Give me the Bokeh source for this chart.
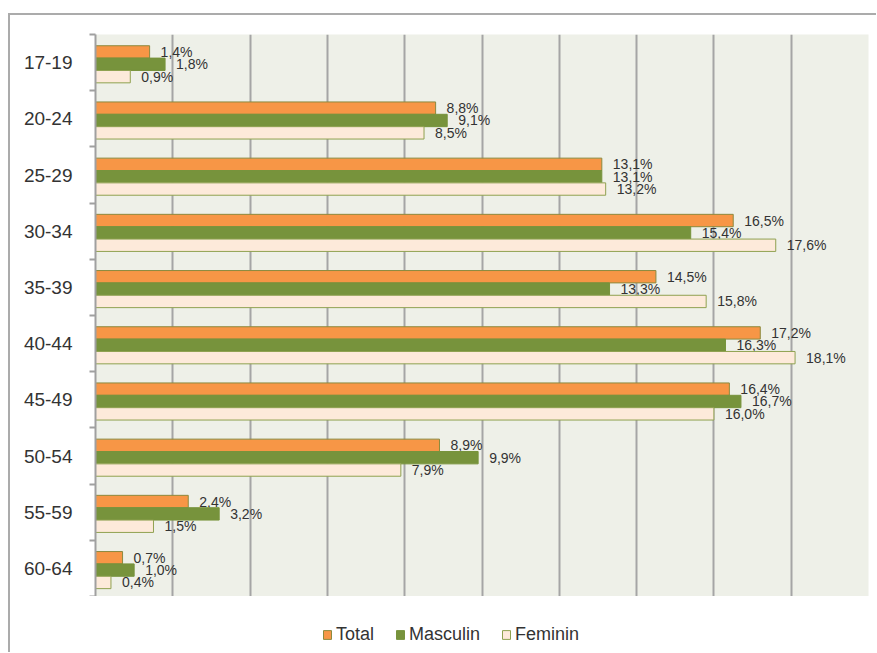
from bokeh.plotting import figure
from bokeh.layouts import column
from bokeh.models import Range1d, FixedTicker, Legend, LegendItem, ColumnDataSource
from bokeh.core.properties import value
from bokeh.embed import file_html
from bokeh.resources import INLINE

age_groups = ["17-19", "20-24", "25-29", "30-34", "35-39", "40-44", "45-49", "50-54", "55-59", "60-64"]
total = [1.4, 8.8, 13.1, 16.5, 14.5, 17.2, 16.4, 8.9, 2.4, 0.7]
masculin = [1.8, 9.1, 13.1, 15.4, 13.3, 16.3, 16.7, 9.9, 3.2, 1.0]
feminin = [0.9, 8.5, 13.2, 17.6, 15.8, 18.1, 16.0, 7.9, 1.5, 0.4]
series_names = ["Total", "Masculin", "Feminin"]
x_ticks = [0, 2, 4, 6, 8, 10, 12, 14, 16, 18, 20]

fills = ["#F79646", "#77933C", "#FDEADA"]
lines = ["#8C8A3E", "#77933C", "#8FA150"]
BAR_H = 0.22
offsets = [-BAR_H + 0.03, 0.03, BAR_H + 0.03]

n = len(age_groups)
centers = [i + 0.5 for i in range(n)]

p = figure(width=866, height=581, output_backend="svg", toolbar_location=None,
           x_range=Range1d(0, 20), y_range=Range1d(n, 0),
           x_axis_location=None,
           min_border_left=85, min_border_top=19, min_border_right=8, min_border_bottom=0)
p.background_fill_color = "#EEF0E8"
p.border_fill_color = "white"
p.outline_line_color = None

p.xgrid.ticker = FixedTicker(ticks=x_ticks)
p.xgrid.grid_line_color = "#A5A5A5"
p.xgrid.grid_line_width = 2
p.ygrid.grid_line_color = None

p.yaxis.ticker = FixedTicker(ticks=centers, minor_ticks=list(range(n + 1)))
p.yaxis.major_label_overrides = {c: g for c, g in zip(centers, age_groups)}
p.yaxis.major_tick_line_color = None
p.yaxis.minor_tick_out = 6
p.yaxis.minor_tick_in = 0
p.yaxis.minor_tick_line_color = "#A0A0A0"
p.yaxis.minor_tick_line_width = 2
p.yaxis.axis_line_color = "#A0A0A0"
p.yaxis.axis_line_width = 2
p.yaxis.major_label_text_font = "Liberation Sans"
p.yaxis.major_label_text_font_size = "19px"
p.yaxis.major_label_text_color = "#333333"
p.yaxis.major_label_standoff = 17

def fmt(v):
    return f"{v:.1f}%".replace(".", ",")

# legend-only figure below the chart
q = figure(width=866, height=56, output_backend="svg", toolbar_location=None,
           x_range=Range1d(0, 1), y_range=Range1d(0, 1),
           x_axis_location=None, y_axis_location=None,
           min_border=0)
q.outline_line_color = None
q.grid.grid_line_color = None
q.background_fill_color = "white"
q.border_fill_color = "white"

items = []
for name, vals, fc, lc, off in zip(series_names, [total, masculin, feminin], fills, lines, offsets):
    src = ColumnDataSource(dict(
        y=[c + off for c in centers],
        right=vals,
        label=[fmt(v) for v in vals],
    ))
    p.hbar(y="y", left=0, right="right", height=BAR_H, source=src,
           fill_color=fc, line_color=lc, line_width=1)
    p.text(x="right", y="y", text="label", source=src, x_offset=11,
           text_align="left", text_baseline="middle",
           text_font=value("Liberation Sans"), text_font_size="14px", text_color="#333333")
    # legend swatch renderer (its single bar lies outside the visible range)
    r = q.hbar(y=[-10], left=[0], right=[0], height=0.1,
               fill_color=fc, line_color=lc, line_width=1)
    items.append(LegendItem(label=name, renderers=[r]))

legend = Legend(items=items, orientation="horizontal", location=(227, 7),
                glyph_width=10, glyph_height=11, label_standoff=4, spacing=21,
                label_text_font="Liberation Sans", label_text_font_size="18px",
                label_text_color="#333333", border_line_color=None,
                background_fill_alpha=0, padding=4, margin=0)
q.add_layout(legend, "center")

layout = column(p, q, spacing=0)
layout.styles = {"border-top": "2px solid #ababab", "border-left": "2px solid #ababab",
                 "margin-top": "13px", "margin-left": "8px"}

open("out.html", "w").write(file_html(layout, INLINE))
